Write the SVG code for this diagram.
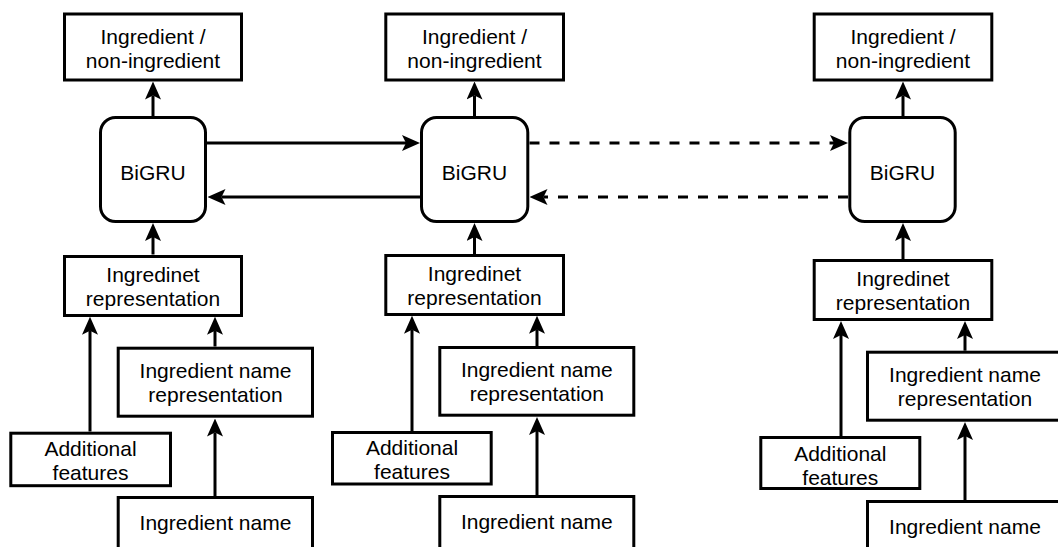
<svg xmlns="http://www.w3.org/2000/svg" width="1058" height="547" viewBox="0 0 1058 547">
<style>
.box{fill:#fff;stroke:#000;stroke-width:3}
.t{font-family:"Liberation Sans",Arial,Helvetica,sans-serif;font-size:21px;fill:#000;text-anchor:middle}
.c{fill:none;stroke:#000;stroke-width:3;marker-end:url(#ah)}
.d{stroke-dasharray:10 10}
</style>
<defs>
<marker id="ah" markerUnits="userSpaceOnUse" viewBox="0 0 18 16" markerWidth="18" markerHeight="16" refX="4" refY="8" orient="auto">
<path d="M18,8 L0,0 L4,8 L0,16 Z" fill="#000"/>
</marker>
</defs>
<rect width="1058" height="547" fill="#fff"/>

<g id="connectors">
<path class="c" d="M153,116 V95.5"/>
<path class="c" d="M153,254.5 V237"/>
<path class="c" d="M90,431.5 V330.7"/>
<path class="c" d="M215,346.5 V330.7"/>
<path class="c" d="M215,496 V432.5"/>
<path class="c" d="M474.5,116 V95.5"/>
<path class="c" d="M474.5,254 V237"/>
<path class="c" d="M412,431 V329.7"/>
<path class="c" d="M537,346 V329.7"/>
<path class="c" d="M537,495 V431"/>
<path class="c" d="M903,116 V95.5"/>
<path class="c" d="M903,259 V237"/>
<path class="c" d="M841,436 V335"/>
<path class="c" d="M965,350.7 V335"/>
<path class="c" d="M965,500 V436"/>
<path class="c" d="M207,143 H406"/>
<path class="c" d="M420,197 H221.5"/>
<path class="c d" d="M529.5,143 H834"/>
<path class="c d" d="M848,197 H543.5"/>
</g>

<g id="col1-output"><rect class="box" x="64.5" y="14" width="177" height="66"/><text class="t" x="153" y="44">Ingredient /</text><text class="t" x="153" y="68">non-ingredient</text></g>
<g id="col1-bigru"><rect class="box" x="100.5" y="117.5" width="105" height="104" rx="15"/><text class="t" x="153" y="180">BiGRU</text></g>
<g id="col1-rep"><rect class="box" x="64.5" y="256.5" width="177" height="59"/><text class="t" x="153" y="282">Ingredinet</text><text class="t" x="153" y="306">representation</text></g>
<g id="col1-features"><rect class="box" x="10.8" y="433.2" width="159.7" height="52.5"/><text class="t" x="90.5" y="456">Additional</text><text class="t" x="90.5" y="480">features</text></g>
<g id="col1-namerep"><rect class="box" x="118.2" y="348.2" width="194.3" height="68"/><text class="t" x="215.5" y="378">Ingredient name</text><text class="t" x="215.5" y="402">representation</text></g>
<g id="col1-name"><rect class="box" x="118.2" y="497.5" width="194.3" height="60"/><text class="t" x="215.5" y="530">Ingredient name</text></g>

<g id="col2-output"><rect class="box" x="385.8" y="14" width="177.7" height="66"/><text class="t" x="474.5" y="44">Ingredient /</text><text class="t" x="474.5" y="68">non-ingredient</text></g>
<g id="col2-bigru"><rect class="box" x="421.5" y="117.5" width="106.3" height="104" rx="15"/><text class="t" x="474.5" y="180">BiGRU</text></g>
<g id="col2-rep"><rect class="box" x="385.8" y="255.5" width="177.7" height="59"/><text class="t" x="474.5" y="281">Ingredinet</text><text class="t" x="474.5" y="305">representation</text></g>
<g id="col2-features"><rect class="box" x="332.5" y="432.5" width="158.7" height="51.5"/><text class="t" x="412" y="455">Additional</text><text class="t" x="412" y="479">features</text></g>
<g id="col2-namerep"><rect class="box" x="439.8" y="347.5" width="194" height="67.7"/><text class="t" x="536.8" y="377">Ingredient name</text><text class="t" x="536.8" y="401">representation</text></g>
<g id="col2-name"><rect class="box" x="439.8" y="496.5" width="194" height="60"/><text class="t" x="536.8" y="529">Ingredient name</text></g>

<g id="col3-output"><rect class="box" x="814.2" y="14" width="177.6" height="66"/><text class="t" x="903" y="44">Ingredient /</text><text class="t" x="903" y="68">non-ingredient</text></g>
<g id="col3-bigru"><rect class="box" x="849.8" y="117.5" width="105.4" height="104" rx="15"/><text class="t" x="902.5" y="180">BiGRU</text></g>
<g id="col3-rep"><rect class="box" x="814.2" y="260.5" width="177.6" height="59"/><text class="t" x="903" y="286">Ingredinet</text><text class="t" x="903" y="310">representation</text></g>
<g id="col3-features"><rect class="box" x="760.8" y="437.5" width="159" height="51"/><text class="t" x="840.3" y="460.5">Additional</text><text class="t" x="840.3" y="484.5">features</text></g>
<g id="col3-namerep"><rect class="box" x="867.5" y="352.2" width="196" height="68"/><text class="t" x="965" y="382">Ingredient name</text><text class="t" x="965" y="406">representation</text></g>
<g id="col3-name"><rect class="box" x="867.5" y="501.5" width="196" height="60"/><text class="t" x="965" y="534">Ingredient name</text></g>
</svg>
